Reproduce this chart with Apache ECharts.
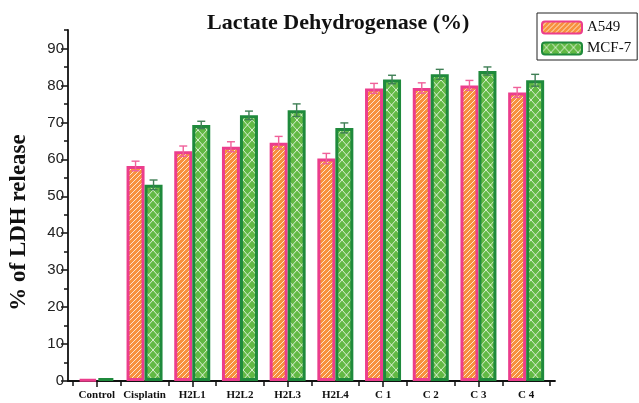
<!DOCTYPE html>
<html>
<head>
<meta charset="utf-8">
<script src="https://cdn.jsdelivr.net/npm/echarts@6/dist/echarts.min.js"></script>
<style>html,body{margin:0;padding:0;background:#fff}#c{width:639px;height:403px}</style>
</head>
<body>
<div id="c"></div>
<script>
const categories = ['Control', 'Cisplatin', 'H2L1', 'H2L2', 'H2L3', 'H2L4', 'C 1', 'C 2', 'C 3', 'C 4'];
const a549 = [0.4, 58.2, 62.2, 63.4, 64.5, 60.2, 79.2, 79.3, 80.0, 78.1];
const mcf7 = [0.8, 53.1, 69.3, 71.9, 73.3, 68.5, 81.6, 83.0, 83.9, 81.4];
const a549Err = [0, 1.3, 1.4, 1.35, 1.7, 1.4, 1.35, 1.4, 1.35, 1.35];
const mcf7Err = [0, 1.3, 1.0, 1.15, 1.7, 1.35, 1.15, 1.35, 1.1, 1.6];
const yTicks = [0, 10, 20, 30, 40, 50, 60, 70, 80, 90];
const yMax = 95;

function stripePattern(bg, line) {
  const c = document.createElement('canvas');
  c.width = 5; c.height = 5;
  const g = c.getContext('2d');
  g.fillStyle = bg; g.fillRect(0, 0, 5, 5);
  g.strokeStyle = line; g.lineWidth = 1;
  g.beginPath();
  g.moveTo(0, 5); g.lineTo(5, 0);
  g.moveTo(-1, 1); g.lineTo(1, -1);
  g.moveTo(4, 6); g.lineTo(6, 4);
  g.stroke();
  return c;
}
function diamondPattern(bg, line) {
  const c = document.createElement('canvas');
  c.width = 9; c.height = 10;
  const g = c.getContext('2d');
  g.fillStyle = bg; g.fillRect(0, 0, 9, 10);
  g.strokeStyle = line; g.lineWidth = 1;
  g.beginPath();
  g.moveTo(0, 0); g.lineTo(9, 10);
  g.moveTo(9, 0); g.lineTo(0, 10);
  g.stroke();
  return c;
}

const pink = '#ec3d8c', orange = '#f7913d';
const dgreen = '#1f8a3c', lgreen = '#62b944';
const barW = 18;
const off = barW / 2;

function errSeries(vals, errs, dx, color) {
  return {
    type: 'custom', xAxisIndex: 0, yAxisIndex: 0, z: 5, silent: true,
    data: vals.map((v, i) => [i, v, errs[i]]),
    renderItem: function (params, api) {
      const e = api.value(2);
      if (!e) return null;
      const v = api.value(1), x = api.value(0);
      const t = api.coord([x, v + e]), b = api.coord([x, v - e]);
      const cx = t[0] + dx, hw = 4;
      const st = { stroke: color, lineWidth: 1.4 };
      return { type: 'group', children: [
        { type: 'line', shape: { x1: cx, y1: t[1], x2: cx, y2: b[1] }, style: st },
        { type: 'line', shape: { x1: cx - hw, y1: t[1], x2: cx + hw, y2: t[1] }, style: st },
        { type: 'line', shape: { x1: cx - hw, y1: b[1], x2: cx + hw, y2: b[1] }, style: st }
      ]};
    }
  };
}

const chart = echarts.init(document.getElementById('c'), null, { renderer: 'canvas' });
const option = {
  animation: false,
  backgroundColor: '#fff',
  title: {
    text: 'Lactate Dehydrogenase (%)',
    left: 207, top: 12, padding: 0,
    textStyle: { fontFamily: 'Liberation Serif', fontWeight: 'bold', fontSize: 22, color: '#111' }
  },
  legend: {
    data: ['A549', 'MCF-7'],
    orient: 'vertical', left: 537, top: 13,
    padding: [7, 6, 4, 4], itemGap: 6,
    itemWidth: 40, itemHeight: 12,
    borderColor: '#222', borderWidth: 1,
    textStyle: { fontFamily: 'Liberation Serif', fontSize: 15, color: '#111' }
  },
  grid: [
    { left: 73, right: 89, top: 30, bottom: 22, containLabel: false },
    { left: 68, right: 84, top: 30, bottom: 22, containLabel: false }
  ],
  xAxis: [
    { gridIndex: 0, type: 'category', data: categories, position: 'bottom',
      axisLine: { show: false },
      axisTick: { show: true, alignWithLabel: false, length: 5, lineStyle: { color: '#111', width: 1.5 } },
      axisLabel: { margin: 9, fontFamily: 'Liberation Serif', fontWeight: 'bold', fontSize: 11, color: '#111', interval: 0 },
      splitLine: { show: false } },
    { gridIndex: 0, type: 'category', data: categories, position: 'bottom',
      axisLine: { show: false },
      axisTick: { show: true, alignWithLabel: true, length: 6, lineStyle: { color: '#111', width: 1.5 } },
      axisLabel: { show: false }, splitLine: { show: false } },
    { gridIndex: 1, type: 'value', min: 0, max: 1, position: 'bottom',
      axisLine: { show: true, lineStyle: { color: '#111', width: 1.8 } },
      axisTick: { show: false }, axisLabel: { show: false }, splitLine: { show: false } }
  ],
  yAxis: [
    { gridIndex: 0, type: 'value', min: 0, max: yMax, show: false, splitLine: { show: false } },
    { gridIndex: 1, type: 'value', min: 0, max: yMax, interval: 10, position: 'left',
      name: '% of LDH release', nameLocation: 'middle', nameRotate: 90, nameGap: 37,
      nameTextStyle: { fontFamily: 'Liberation Serif', fontWeight: 'bold', fontSize: 23, color: '#111', padding: [0, 34, 0, 0] },
      axisLine: { show: true, lineStyle: { color: '#111', width: 1.8 } },
      axisTick: { show: true, inside: false, length: 7, customValues: yTicks, lineStyle: { color: '#111', width: 1.5 } },
      axisLabel: { customValues: yTicks, margin: 4, fontFamily: 'Liberation Sans', fontSize: 15, color: '#222' },
      splitLine: { show: false } },
    { gridIndex: 1, type: 'value', min: 0, max: yMax, interval: 5, position: 'left',
      axisLine: { show: false },
      axisTick: { show: true, length: 4, lineStyle: { color: '#111', width: 1.5 } },
      axisLabel: { show: false }, splitLine: { show: false } }
  ],
  series: [
    { name: 'A549', type: 'bar', xAxisIndex: 0, yAxisIndex: 0, data: a549,
      barWidth: barW, barGap: '0%',
      itemStyle: { color: { image: stripePattern(orange, 'rgba(255,255,255,0.75)'), repeat: 'repeat' }, borderColor: pink, borderWidth: 3 } },
    { name: 'MCF-7', type: 'bar', xAxisIndex: 0, yAxisIndex: 0, data: mcf7,
      barWidth: barW,
      itemStyle: { color: { image: diamondPattern(lgreen, 'rgba(255,255,255,0.75)'), repeat: 'repeat' }, borderColor: dgreen, borderWidth: 3 } },
    errSeries(a549, a549Err, -off, '#f0609a'),
    errSeries(mcf7, mcf7Err, off, '#3f7f55')
  ]
};
chart.setOption(option);
</script>
</body>
</html>
